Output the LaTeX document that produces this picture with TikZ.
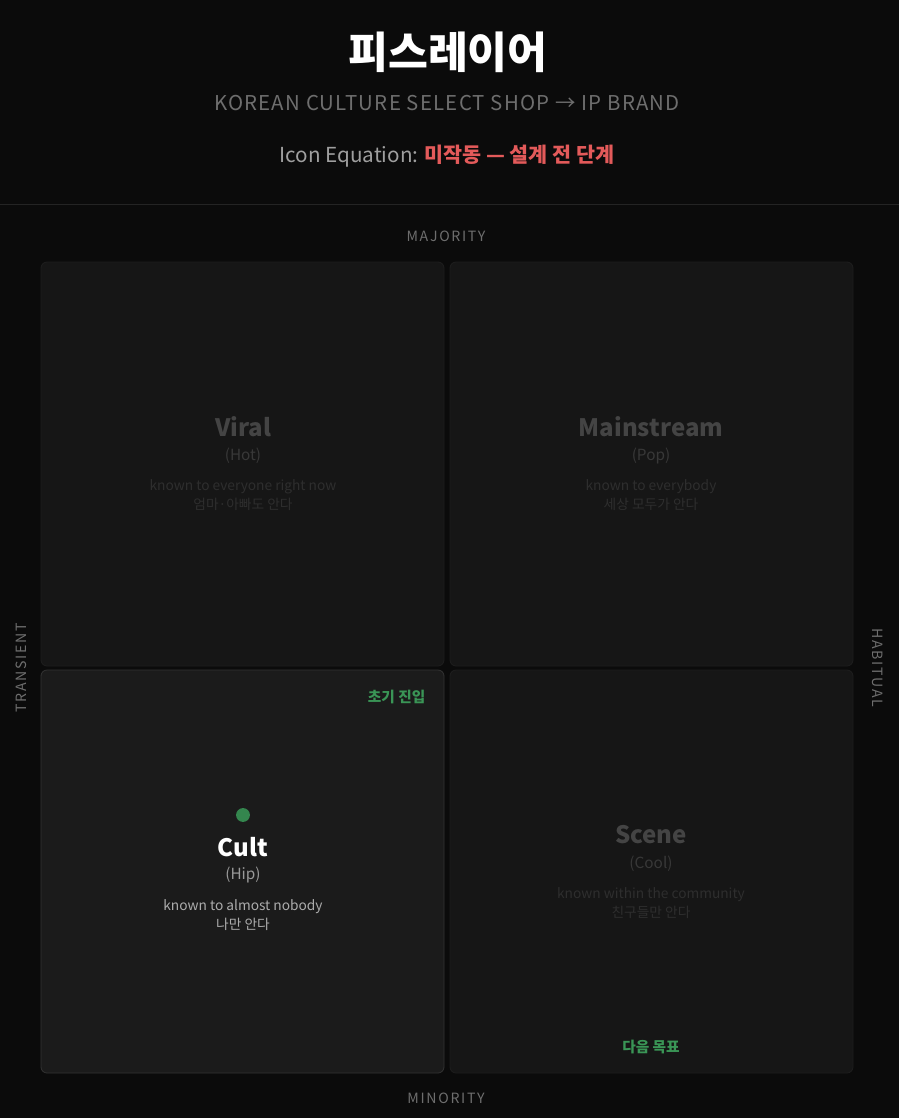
\documentclass[tikz,border=0pt]{standalone}
\usepackage{fontspec}
\setmainfont{Noto Sans CJK KR}
\newfontfamily\spacedfont[LetterSpace=6]{Noto Sans CJK KR}
\newfontfamily\axisfont[LetterSpace=12]{Noto Sans CJK KR}

\definecolor{pagebg}{HTML}{0B0B0B}
\definecolor{rulecol}{HTML}{242424}
\definecolor{cellbg}{HTML}{161616}
\definecolor{cellline}{HTML}{1E1E1E}
\definecolor{activebg}{HTML}{1B1B1B}
\definecolor{activeline}{HTML}{333333}
\definecolor{dimhead}{HTML}{444444}
\definecolor{dimsub}{HTML}{383838}
\definecolor{dimtext}{HTML}{2E2E2E}
\definecolor{axiscol}{HTML}{6E6E6E}
\definecolor{alertred}{HTML}{E35A5A}
\definecolor{markgreen}{HTML}{3A9556}

\begin{document}
\begin{tikzpicture}[x=0.75pt, y=-0.75pt,
	cell/.style={draw=cellline, fill=cellbg, rounded corners=4.5pt, line width=0.6pt},
	cellon/.style={draw=activeline, fill=activebg, rounded corners=4.5pt, line width=0.6pt},
	qhead/.style={font=\bfseries\fontsize{18}{20}\selectfont, text=dimhead},
	qsub/.style={font=\fontsize{11.5}{13}\selectfont, text=dimsub},
	qtext/.style={font=\fontsize{10.3}{14}\selectfont, text=dimtext, align=center},
	axis/.style={font=\axisfont\fontsize{10.6}{12}\selectfont, text=axiscol},
	tag/.style={font=\bfseries\fontsize{11}{12}\selectfont, text=markgreen}]
				% page and header
				\fill[pagebg] (0,0) rectangle (899,1118);
				\useasboundingbox (0,0) rectangle (899,1118);
				\draw[rulecol, line width=0.75pt] (0,204) -- (899,204);
				\node[font=\bfseries\fontsize{32.5}{36}\selectfont, text=white] (T)at(448, 52) {피스레이어};
				\node[font=\spacedfont\fontsize{15.3}{17}\selectfont, text=axiscol] (S)at(447, 103) {KOREAN CULTURE SELECT SHOP → IP BRAND};
				\node[font=\fontsize{15.5}{18}\selectfont, text=gray!75] (E)at(447, 156) {Icon Equation: \textcolor{alertred}{\bfseries 미작동 — 설계 전 단계}};
				% axes
				\node[axis] (MA)at(446, 236) {MAJORITY};
				\node[axis] (MI)at(446, 1098) {MINORITY};
				\node[axis, rotate=90] (TR)at(21, 668) {TRANSIENT};
				\node[axis, rotate=-90] (HA)at(878, 668) {HABITUAL};
				% quadrants
				\draw[cell] (41, 262) rectangle (444, 666);
				\draw[cell] (450, 262) rectangle (853, 666);
				\draw[cellon] (41, 670) rectangle (444, 1073);
				\draw[cell] (450, 670) rectangle (853, 1073);
				% upper left
				\node[qhead] (V)at(243, 427) {Viral};
				\node[qsub] (V2)at(243, 456) {(Hot)};
				\node[qtext] (V3)at(243, 495) {known to everyone right now\\엄마·아빠도 안다};
				% upper right
				\node[qhead] (M)at(651, 427) {Mainstream};
				\node[qsub] (M2)at(651, 456) {(Pop)};
				\node[qtext] (M3)at(651, 495) {known to everybody\\세상 모두가 안다};
				% lower left
				\fill[markgreen!90!black] (243, 815) circle (5.2pt);
				\node[qhead, text=white] (C)at(243, 847) {Cult};
				\node[qsub, text=gray!80] (C2)at(243, 875) {(Hip)};
				\node[qtext, text=gray!65] (C3)at(243, 915) {known to almost nobody\\나만 안다};
				\node[tag, anchor=east] (CT)at(430, 697) {초기 진입};
				% lower right
				\node[qhead] (N)at(651, 835) {Scene};
				\node[qsub] (N2)at(651, 864) {(Cool)};
				\node[qtext] (N3)at(651, 903) {known within the community\\친구들만 안다};
				\node[tag] (NT)at(651, 1047) {다음 목표};
			\end{tikzpicture}
\end{document}
